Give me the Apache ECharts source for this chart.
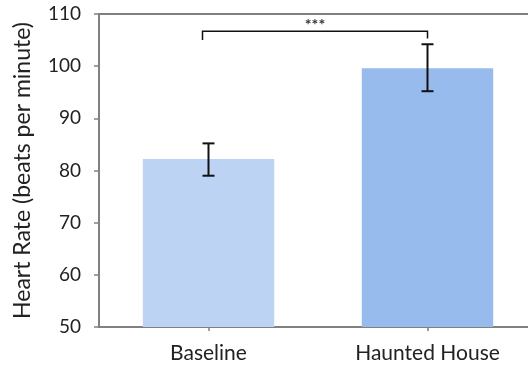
<!DOCTYPE html>
<html><head><meta charset="utf-8">
<script src="https://cdn.jsdelivr.net/npm/echarts@6/dist/echarts.min.js"></script>
<style>html,body{margin:0;padding:0;background:#fff;overflow:hidden}#c{width:537px;height:368px}</style>
</head><body><div id="c"></div>
<script>
var categories = ['Baseline', 'Haunted House'];
var means = [82.2, 99.6];
var errLow = [79.0, 95.2];
var errHigh = [85.2, 104.2];
var barColors = ['#BDD3F3', '#98BBEE'];
var yTicks = [50, 60, 70, 80, 90, 100, 110];
var sigBracket = [{from: 0, to: 1, top: 106.7, leftEnd: 105.0, rightEnd: 105.3, label: '***'}];

var font = 'Lato, "Noto Sans", sans-serif';
var chart = echarts.init(document.getElementById('c'));
chart.setOption({
  animation: false,
  grid: {left: 99, right: 0, top: 14, bottom: 41, show: true, borderColor: '#808080', borderWidth: 2, backgroundColor: 'transparent'},
  xAxis: {
    type: 'category', data: categories,
    axisLine: {lineStyle: {color: '#808080', width: 2}},
    axisTick: {show: true, alignWithLabel: true, length: 4, lineStyle: {color: '#808080', width: 1.5}},
    axisLabel: {color: '#222', fontSize: 21, fontFamily: font, margin: 16}
  },
  yAxis: {
    type: 'value', min: yTicks[0], max: yTicks[yTicks.length - 1], interval: 10,
    name: 'Heart Rate (beats per minute)', nameLocation: 'middle', nameGap: 65,
    nameTextStyle: {color: '#222', fontSize: 23, fontFamily: font},
    splitLine: {show: false},
    axisLine: {show: true, lineStyle: {color: '#808080', width: 2}},
    axisTick: {show: true, length: 5, lineStyle: {color: '#808080', width: 1.5}},
    axisLabel: {color: '#222', fontSize: 19, fontFamily: font, margin: 18}
  },
  series: [
    {
      type: 'bar', barWidth: '60%',
      data: means.map(function (v, i) { return {value: v, itemStyle: {color: barColors[i]}}; })
    },
    {
      type: 'custom',
      data: categories.map(function (c, i) { return [i, errLow[i], errHigh[i]]; }),
      renderItem: function (params, api) {
        var lo = api.coord([api.value(0), api.value(1)]);
        var hi = api.coord([api.value(0), api.value(2)]);
        var hw = 6;
        var st = {stroke: '#111', lineWidth: 2};
        return {type: 'group', children: [
          {type: 'line', shape: {x1: lo[0], y1: lo[1], x2: hi[0], y2: hi[1]}, style: st},
          {type: 'line', shape: {x1: lo[0] - hw, y1: lo[1], x2: lo[0] + hw, y2: lo[1]}, style: st},
          {type: 'line', shape: {x1: hi[0] - hw, y1: hi[1], x2: hi[0] + hw, y2: hi[1]}, style: st}
        ]};
      },
      z: 5
    },
    {
      type: 'custom',
      data: sigBracket.map(function (b) { return [b.from, b.to, b.top, b.leftEnd, b.rightEnd]; }),
      renderItem: function (params, api) {
        var b = sigBracket[params.dataIndex];
        var l = api.coord([api.value(0), api.value(2)]);
        var r = api.coord([api.value(1), api.value(2)]);
        var lEnd = api.coord([api.value(0), api.value(3)]);
        var rEnd = api.coord([api.value(1), api.value(4)]);
        var lx = l[0] - 6;
        var st = {stroke: '#111', lineWidth: 1.5, fill: null};
        return {type: 'group', children: [
          {type: 'polyline', shape: {points: [[lx, lEnd[1]], [lx, l[1]], [r[0], r[1]], [r[0], rEnd[1]]]}, style: st},
          {type: 'text', x: (lx + r[0]) / 2, y: l[1] + 2, style: {text: b.label, fill: '#333', font: 'bold 16px ' + font, align: 'center', verticalAlign: 'bottom'}}
        ]};
      },
      z: 5
    }
  ]
});
</script></body></html>
